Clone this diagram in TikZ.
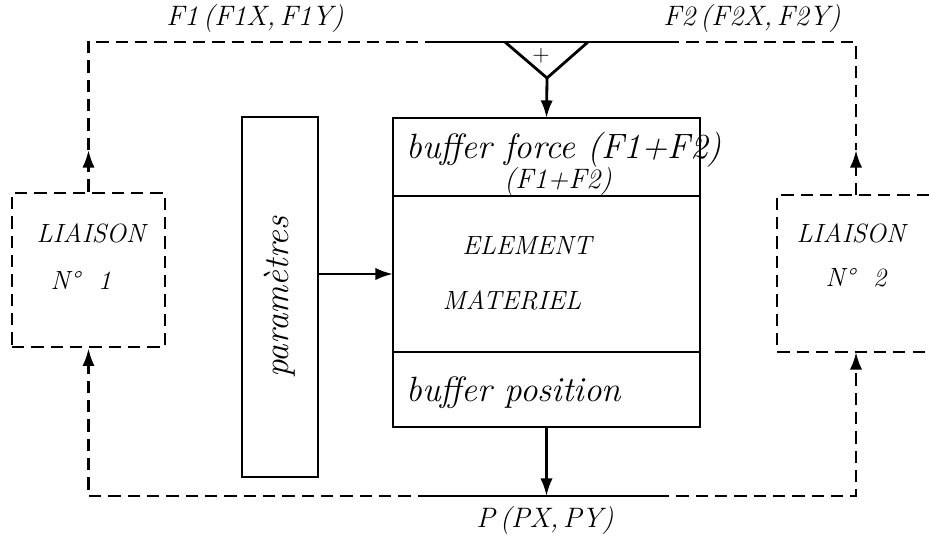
\documentclass[tikz,border=0pt]{standalone}
\usepackage{tikz}
\usetikzlibrary{positioning, arrows.meta}

\begin{document}
\begin{tikzpicture}[x=0.02cm, y=-0.02cm, >={Latex[length=10pt,width=7pt]}, line width=1.6pt,
    bloc/.style={draw, rectangle, minimum width=6.14cm, inner sep=0pt, outer sep=0pt},
    liaison/.style={dash pattern=on 7pt off 4pt},
    texte/.style={font=\fontsize{16}{19}\selectfont\itshape, inner sep=0pt},
    majus/.style={font=\fontsize{15}{18}\selectfont\itshape, inner sep=0pt},
    minus/.style={font=\fontsize{20}{24}\selectfont\itshape, inner sep=0pt}]
    % Cadre de l'image
    \useasboundingbox (0,0) rectangle (929,539);

    % Les trois cases de l'element materiel
    \node[bloc, minimum height=1.56cm] (bufF) at (546.5,157) {};
    \node[bloc, minimum height=3.12cm, below=0cm of bufF] (elem) {};
    \node[bloc, minimum height=1.5cm, below=0cm of elem] (bufP) {};
    \node[minus, anchor=west] (tbufF) at (405,150) {buffer force (F1+F2)};
    \node[texte] (tsomme) at (558,181) {(F1+F2)};
    \node[majus] (telem) at (527,245) {ELEMENT};
    \node[majus] (tmat) at (512,300) {MATERIEL};
    \node[minus, anchor=west] (tbufP) at (405,393) {buffer position};

    % Bloc des parametres
    \node[draw, minimum width=1.52cm, minimum height=7.2cm, inner sep=0pt] (param) at (280,297) {};
    \node[minus, rotate=90] (tparam) at (param) {paramètres};
    \draw[->] (param.east |- elem.west) -- (elem.west);

    % Liaison 1 (boite complete) et liaison 2 (coupee par le bord)
    \node[draw, liaison, minimum width=3.06cm, minimum height=3.08cm, inner sep=0pt] (L1) at (88.5,270) {};
    \node[majus] (tL1) at (91,233) {LIAISON};
    \node[majus] (nL1) at (81,280) {N°~~1};
    \coordinate (L2n) at (856,195);
    \coordinate (L2s) at (856,352);
    \draw[liaison] (929,195) -| (777,352) -- (929,352);
    \node[majus] (tL2) at (851,233) {LIAISON};
    \node[majus] (nL2) at (856,278) {N°~~2};

    % Boucle des forces (en haut) et sommateur
    \coordinate (f1) at (88.5,150);
    \coordinate (f2) at (856,150);
    \coordinate (s1) at (430,42);
    \coordinate (s2) at (667,42);
    \coordinate (somme) at (547,78);
    \draw[liaison, ->] (L1.north) -- (f1);
    \draw[liaison] (f1) |- (s1);
    \draw (s1) -- (s2);
    \draw[liaison] (s2) -| (f2);
    \draw[liaison, ->] (L2n) -- (f2);
    \draw (505,42) -- (somme) -- (588,42);
    \node[font=\fontsize{13}{15}\selectfont] (plus) at (541,56) {+};
    \draw[->] (somme) -- (bufF.north);
    \node[texte] (lF1) at (255,18) {F1\,(F1X,\,F1Y)};
    \node[texte] (lF2) at (752,18) {F2\,(F2X,\,F2Y)};

    % Boucle des positions (en bas)
    \coordinate (p1) at (430,496);
    \coordinate (p2) at (657,496);
    \draw[->] (bufP.south) -- (bufP.south |- p1);
    \draw (p1) -- (p2);
    \draw[liaison, ->] (p1) -| (L1.south);
    \draw[liaison, ->] (p2) -| (L2s);
    \node[texte] (lP) at (545,520) {P\,(PX,\,PY)};
\end{tikzpicture}
\end{document}
